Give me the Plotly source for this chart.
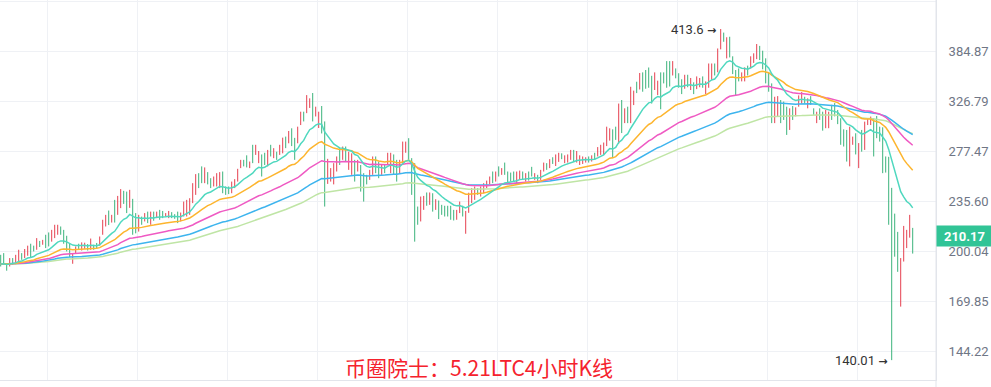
import math
import pandas as pd
import plotly.graph_objects as go

# ---------------- data (4h LTC candles) ----------------
opens = [
    196.1, 197.2, 190.6, 191.3, 194.7, 193.5, 194.8, 197.8, 196.7, 198.3,
    203.1, 202.8, 202.5, 206.0, 204.9, 209.2, 210.7, 207.9, 210.6, 212.4,
    215.6, 212.5, 208.2, 203.1, 193.3, 199.6, 204.1, 201.5, 202.3, 203.8,
    202.4, 203.5, 204.7, 204.8, 213.1, 218.5, 226.3, 220.7, 233.1, 228.1,
    233.2, 241.6, 239.7, 233.2, 232.0, 223.6, 215.6, 222.7, 221.6, 225.9,
    219.9, 226.3, 223.8, 227.4, 227.0, 224.5, 223.9, 226.3, 225.0, 225.9,
    221.7, 226.2, 226.5, 227.7, 237.2, 243.8, 255.6, 261.1, 252.4, 257.0,
    252.3, 248.7, 249.3, 248.4, 255.9, 245.8, 245.9, 243.6, 247.3, 253.2,
    263.8, 268.5, 271.5, 263.5, 279.9, 275.8, 268.9, 270.6, 273.7, 266.8,
    281.1, 272.9, 275.4, 275.8, 278.3, 288.7, 286.9, 295.5, 285.7, 287.8,
    304.8, 313.6, 317.9, 321.5, 329.5, 312.7, 302.5, 316.0, 290.8, 253.5,
    253.4, 252.4, 262.1, 277.1, 272.0, 278.9, 264.1, 260.4, 265.9, 261.5,
    260.7, 253.5, 255.1, 254.2, 259.9, 269.7, 265.3, 258.4, 263.7, 267.3,
    261.7, 270.9, 265.9, 260.4, 270.6, 278.0, 285.4, 265.0, 254.6, 228.7,
    224.1, 231.0, 240.2, 234.6, 238.9, 230.5, 233.2, 231.2, 230.4, 230.4,
    229.9, 227.3, 223.1, 228.2, 230.4, 215.0, 229.8, 236.4, 238.6, 244.7,
    240.7, 243.3, 247.0, 250.1, 257.6, 252.8, 262.2, 257.8, 265.1, 257.6,
    257.1, 257.8, 251.7, 254.5, 258.1, 252.5, 258.0, 261.9, 253.6, 255.3,
    254.2, 261.0, 265.5, 264.0, 270.7, 266.2, 269.4, 274.4, 268.1, 268.6,
    271.4, 276.4, 269.3, 266.8, 267.3, 268.1, 271.5, 269.2, 274.6, 274.3,
    275.8, 276.3, 285.7, 289.5, 292.5, 298.0, 292.1, 321.2, 307.0, 317.4,
    311.7, 325.6, 345.6, 343.2, 354.5, 357.4, 360.0, 348.7, 342.8, 336.4,
    350.7, 356.4, 366.2, 366.5, 358.7, 361.3, 354.6, 347.6, 343.4, 353.3,
    341.5, 344.8, 342.7, 344.0, 351.6, 337.1, 346.9, 354.0, 366.7, 364.8,
    392.3, 406.4, 381.1, 398.0, 374.0, 356.0, 360.6, 350.6, 351.8, 364.6,
    366.5, 372.6, 378.6, 387.9, 380.7, 369.9, 354.5, 337.8, 309.5, 315.1,
    323.1, 322.4, 315.1, 301.7, 318.6, 312.7, 323.2, 326.6, 330.0, 321.2,
    330.2, 317.8, 306.3, 316.7, 311.8, 302.7, 302.3, 319.7, 321.8, 314.5,
    303.8, 294.6, 291.5, 271.2, 284.7, 290.2, 266.9, 293.2, 283.9, 303.5,
    303.8, 301.6, 306.8, 297.6, 291.5, 269.8, 261.4, 228.0, 220.1, 207.8,
    172.5, 198.1, 204.5, 212.2, 214.5,
]
highs = [
    197.6, 198.7, 191.3, 195.5, 195.5, 197.6, 200.9, 198.7, 201.4, 203.6,
    204.9, 203.6, 208.7, 206.8, 207.5, 211.0, 212.6, 214.4, 218.0, 218.0,
    216.8, 214.4, 210.3, 204.9, 198.7, 203.1, 204.9, 205.8, 205.6, 204.7,
    208.4, 204.2, 205.4, 209.8, 221.6, 225.2, 228.4, 225.2, 236.5, 239.6,
    245.0, 243.6, 243.0, 244.4, 237.3, 226.5, 225.2, 223.9, 226.5, 227.6,
    227.6, 227.6, 227.6, 228.9, 228.1, 226.5, 228.1, 227.2, 225.7, 227.6,
    226.9, 235.2, 236.5, 237.8, 249.8, 257.3, 258.1, 263.9, 263.0, 259.0,
    253.9, 255.3, 258.1, 259.0, 259.5, 247.1, 247.1, 251.1, 253.1, 261.8,
    269.6, 269.6, 273.6, 268.1, 283.2, 283.2, 277.5, 274.4, 275.9, 278.5,
    283.2, 280.1, 276.9, 283.2, 289.9, 290.9, 296.3, 298.9, 289.7, 300.5,
    315.6, 315.6, 333.2, 329.7, 335.5, 320.8, 315.6, 321.5, 305.7, 270.5,
    262.4, 266.7, 272.6, 280.1, 281.6, 281.6, 276.9, 275.4, 269.6, 269.6,
    265.1, 258.1, 256.7, 260.9, 272.6, 272.6, 268.1, 265.1, 265.1, 275.9,
    275.9, 274.4, 269.6, 269.6, 286.2, 286.2, 289.4, 271.1, 266.7, 231.4,
    239.1, 239.6, 242.3, 242.3, 241.7, 237.0, 236.0, 232.7, 232.0, 232.0,
    232.0, 228.9, 228.9, 235.2, 232.0, 228.1, 242.1, 245.8, 247.1, 245.8,
    247.1, 249.8, 251.9, 255.3, 259.5, 259.5, 263.9, 262.4, 267.2, 259.5,
    258.6, 259.5, 259.5, 260.3, 259.5, 258.1, 259.5, 263.5, 258.1, 256.7,
    260.9, 267.2, 266.7, 270.2, 271.9, 274.4, 275.9, 275.4, 273.6, 274.4,
    278.5, 278.5, 277.5, 273.6, 272.6, 271.9, 272.6, 273.6, 275.9, 281.1,
    283.2, 285.3, 300.5, 298.9, 297.9, 300.5, 324.1, 327.9, 319.1, 320.8,
    342.4, 338.1, 348.1, 358.2, 358.9, 361.7, 364.7, 354.9, 358.9, 349.3,
    358.9, 358.9, 372.4, 372.4, 372.4, 363.6, 357.9, 350.9, 356.1, 356.1,
    352.4, 347.4, 354.2, 352.4, 354.2, 348.5, 369.5, 369.5, 369.5, 388.1,
    413.6, 408.8, 402.6, 403.3, 378.3, 361.7, 363.6, 358.9, 364.8, 366.9,
    378.3, 382.0, 393.8, 391.4, 385.3, 375.8, 358.9, 346.2, 331.4, 332.1,
    327.9, 326.2, 320.8, 319.1, 321.5, 320.1, 332.9, 336.5, 331.4, 329.7,
    332.1, 319.1, 315.6, 319.1, 315.6, 317.4, 315.6, 322.8, 324.6, 317.4,
    308.9, 297.9, 297.3, 300.5, 290.9, 294.1, 284.8, 297.3, 305.5, 308.9,
    310.6, 308.9, 311.2, 300.5, 299.9, 272.6, 272.3, 246.0, 226.1, 213.0,
    195.5, 217.2, 214.4, 225.2, 215.8,
]
lows = [
    190.2, 191.3, 187.6, 190.2, 191.3, 192.5, 193.3, 194.4, 195.5, 197.0,
    196.1, 199.8, 200.9, 202.7, 204.2, 202.0, 203.1, 206.3, 208.7, 211.0,
    211.0, 204.9, 199.8, 196.1, 191.9, 198.7, 200.9, 200.4, 201.5, 200.4,
    200.9, 200.9, 202.0, 203.6, 211.0, 216.8, 217.8, 219.6, 219.6, 225.2,
    230.2, 233.4, 226.5, 230.4, 211.0, 212.0, 213.2, 218.0, 220.4, 219.2,
    218.0, 220.9, 222.8, 221.6, 222.8, 224.0, 222.8, 222.8, 222.3, 219.2,
    220.4, 224.0, 224.0, 225.2, 234.0, 240.4, 245.8, 249.8, 249.8, 248.8,
    245.8, 247.1, 247.1, 245.8, 241.7, 240.4, 241.0, 241.7, 245.8, 251.1,
    262.4, 263.9, 263.0, 262.4, 266.7, 274.0, 266.7, 255.3, 265.1, 263.9,
    272.6, 271.1, 269.6, 274.0, 275.4, 280.1, 284.6, 282.0, 269.6, 284.6,
    302.1, 305.7, 314.1, 319.5, 305.7, 310.7, 299.2, 293.9, 231.4, 249.2,
    251.1, 248.8, 259.5, 265.1, 269.6, 268.1, 260.9, 256.7, 251.1, 259.5,
    243.0, 235.2, 248.8, 252.5, 256.7, 258.1, 253.9, 256.7, 258.1, 265.1,
    258.1, 256.7, 251.1, 258.1, 266.7, 275.9, 269.6, 240.4, 206.3, 218.0,
    220.4, 228.9, 232.0, 232.7, 227.6, 228.9, 222.1, 225.2, 224.0, 224.0,
    221.6, 221.1, 221.6, 226.5, 224.0, 211.7, 226.7, 234.0, 236.5, 240.4,
    239.1, 241.7, 245.8, 248.8, 249.8, 251.1, 255.3, 256.7, 256.7, 249.8,
    251.1, 251.1, 249.8, 253.1, 252.5, 251.1, 251.9, 255.3, 252.5, 249.8,
    252.5, 259.5, 260.9, 262.4, 266.0, 264.2, 267.8, 270.2, 266.7, 267.2,
    269.6, 268.1, 267.2, 265.1, 266.0, 267.2, 267.2, 268.1, 269.6, 272.6,
    274.0, 274.0, 282.0, 287.1, 271.1, 287.8, 284.1, 294.3, 304.0, 304.0,
    304.0, 322.5, 335.4, 339.4, 336.9, 340.2, 341.3, 324.1, 338.8, 333.2,
    318.1, 346.2, 341.3, 342.7, 355.3, 352.0, 341.3, 334.3, 340.2, 341.9,
    338.8, 334.3, 339.8, 341.9, 341.3, 334.3, 341.3, 350.1, 355.3, 359.0,
    387.0, 396.7, 375.7, 376.9, 356.9, 333.1, 348.5, 348.5, 348.5, 355.3,
    363.6, 370.2, 374.8, 373.7, 362.5, 346.2, 336.9, 304.0, 304.0, 310.8,
    304.0, 307.2, 292.5, 297.3, 307.2, 310.8, 320.8, 324.1, 324.1, 319.1,
    322.8, 312.4, 304.0, 307.2, 296.6, 299.0, 299.0, 307.2, 310.8, 303.0,
    283.2, 281.6, 268.1, 263.9, 283.2, 274.4, 262.4, 276.9, 278.5, 302.1,
    302.1, 272.6, 289.4, 286.2, 258.1, 258.6, 218.0, 140.01, 196.4, 186.9,
    166.8, 193.3, 202.0, 209.0, 198.4,
]
closes = [
    191.7, 192.8, 188.3, 194.4, 192.1, 196.6, 199.4, 195.3, 200.2, 202.3,
    197.9, 200.6, 207.1, 203.5, 206.8, 203.8, 205.0, 212.8, 216.1, 216.6,
    212.2, 206.8, 201.9, 197.9, 197.3, 202.2, 201.7, 204.7, 204.8, 201.3,
    206.9, 201.6, 202.7, 208.6, 219.5, 223.5, 219.9, 224.1, 223.0, 236.7,
    242.0, 235.4, 229.8, 241.6, 216.3, 214.9, 222.8, 219.2, 225.3, 220.9,
    225.7, 222.2, 226.6, 223.1, 223.9, 226.0, 227.0, 223.7, 223.0, 220.9,
    225.6, 233.0, 234.0, 235.3, 246.6, 253.9, 248.3, 252.6, 260.4, 250.8,
    247.4, 253.7, 255.9, 256.4, 245.3, 241.7, 242.2, 249.2, 251.6, 259.7,
    268.2, 265.0, 265.1, 267.0, 270.0, 281.4, 275.3, 259.1, 267.3, 275.6,
    274.7, 278.3, 271.1, 281.4, 287.0, 282.3, 294.0, 285.4, 273.6, 297.3,
    312.9, 307.7, 329.4, 327.7, 311.7, 318.8, 312.3, 299.4, 246.3, 266.2,
    260.1, 263.1, 270.0, 268.1, 279.2, 270.8, 273.7, 271.7, 254.8, 267.6,
    247.4, 239.8, 250.4, 259.2, 269.4, 261.0, 256.7, 263.4, 259.5, 273.7,
    272.3, 260.2, 254.8, 267.3, 282.3, 284.1, 273.6, 246.5, 218.4, 220.7,
    235.4, 237.5, 234.1, 240.4, 230.4, 235.4, 224.9, 226.7, 225.6, 225.6,
    223.7, 222.7, 227.4, 233.5, 225.6, 224.8, 239.0, 243.4, 245.0, 241.5,
    245.5, 248.2, 250.7, 254.0, 251.7, 257.8, 257.0, 261.3, 258.8, 251.7,
    252.6, 252.8, 257.6, 258.9, 253.9, 256.7, 253.4, 256.9, 257.0, 251.2,
    259.2, 265.7, 262.1, 268.6, 267.2, 272.4, 274.3, 271.2, 272.2, 273.0,
    276.7, 270.2, 275.4, 271.9, 271.3, 271.0, 268.3, 272.5, 270.9, 279.4,
    281.4, 283.0, 296.8, 296.5, 276.5, 290.3, 316.1, 301.0, 316.1, 307.4,
    334.7, 335.0, 337.9, 354.4, 341.3, 344.5, 346.0, 330.3, 354.9, 346.1,
    326.3, 348.7, 347.5, 348.6, 369.0, 354.3, 344.6, 337.6, 352.9, 344.7,
    349.7, 336.9, 351.3, 350.3, 343.9, 345.7, 363.9, 365.6, 358.1, 382.3,
    408.3, 399.1, 397.2, 382.2, 361.2, 338.8, 351.5, 356.8, 361.5, 357.6,
    375.4, 379.6, 390.0, 377.2, 367.1, 352.1, 341.3, 312.4, 325.9, 327.8,
    308.8, 311.0, 298.2, 314.7, 310.1, 318.2, 330.5, 334.0, 325.6, 327.6,
    324.7, 313.7, 313.3, 309.6, 300.4, 313.7, 312.3, 310.3, 313.6, 305.9,
    288.3, 284.9, 273.9, 293.2, 289.4, 278.3, 280.3, 281.0, 300.1, 307.5,
    308.9, 279.9, 293.8, 289.1, 266.5, 261.4, 228.9, 205.0, 202.3, 192.1,
    189.8, 212.4, 211.9, 222.0, 210.17,
]

ma_periods = [130, 92, 58, 32, 14]
ma_colors = ["#bfe5a5", "#3db4ee", "#ef5ac3", "#fdb52e", "#4fd8bf"]

y_tick_vals = [144.22, 169.85, 200.04, 235.60, 277.47, 326.79, 384.87, 453.28]
y_tick_text = ["144.22", "169.85", "200.04", "235.60", "277.47", "326.79", "384.87", ""]
last_price = 210.17
title_text = "币圈院士：5.21LTC4小时K线"

UP = "#e5414f"
DOWN = "#3cb37c"
GRID = "#eff1f5"
AXIS = "#e2e5eb"

# ---------------- figure ----------------
n = len(closes)
x = list(range(n))
close_s = pd.Series(closes)

fig = go.Figure()
fig.add_trace(go.Ohlc(
    x=x, open=opens, high=highs, low=lows, close=closes,
    tickwidth=0,
    increasing=dict(line=dict(color=UP, width=1)),
    decreasing=dict(line=dict(color=DOWN, width=1)),
    showlegend=False, hoverinfo="skip",
))
for p, c in zip(ma_periods, ma_colors):
    ema = close_s.ewm(span=p, adjust=False).mean()
    fig.add_trace(go.Scatter(x=x, y=ema, mode="lines",
                             line=dict(color=c, width=1.5),
                             showlegend=False, hoverinfo="skip"))

plot_w = 936
x_lo = -0.7 / 3.0
x_hi = (plot_w - 0.7) / 3.0
grid_x = [15.67 + 30 * k for k in range(11)]

i_hi = max(range(n), key=lambda i: highs[i])
i_lo = min(range(n), key=lambda i: lows[i])

fig.update_layout(
    width=991, height=387,
    margin=dict(l=0, r=55, t=0, b=7),
    paper_bgcolor="white", plot_bgcolor="white",
    font=dict(family="Roboto, sans-serif"),
    xaxis=dict(range=[x_lo, x_hi], tickvals=grid_x, showticklabels=False,
               showgrid=True, gridcolor=GRID, gridwidth=1, zeroline=False,
               showline=True, linecolor=AXIS, linewidth=1,
               rangeslider=dict(visible=False), fixedrange=True),
    yaxis=dict(type="log", side="right",
               range=[math.log10(131.2), math.log10(454.8)],
               tickvals=y_tick_vals, ticktext=y_tick_text,
               showgrid=True, gridcolor=GRID, gridwidth=1, zeroline=False,
               showline=True, linecolor=AXIS, linewidth=1,
               ticks="", ticklabelstandoff=9,
               tickfont=dict(size=13, color="#6f7685", family="Roboto"),
               fixedrange=True),
    showlegend=False,
)

# axis line continues to the bottom of the canvas
fig.add_shape(type="line", xref="paper", yref="paper",
              x0=1, x1=1, y0=-0.03, y1=1, line=dict(color=AXIS, width=1))

# last price box
fig.add_annotation(xref="paper", yref="y", x=1, y=math.log10(last_price),
                   xanchor="left", yanchor="middle", showarrow=False,
                   text="<b>%.2f</b>" % last_price, width=55, height=20,
                   borderpad=0, align="center", bgcolor="#31c496",
                   font=dict(color="white", size=13, family="Roboto"))
fig.add_shape(type="line", xref="paper", yref="y",
              x0=1 + 2 / plot_w, x1=1 + 7 / plot_w, y0=last_price, y1=last_price,
              line=dict(color="white", width=1.5))

# max / min labels
arrow = "<span style='font-family:DejaVu Sans;font-size:11px;font-weight:bold'>→</span>"
fig.add_annotation(x=i_hi, y=math.log10(highs[i_hi]), text="%.1f %s" % (highs[i_hi], arrow),
                   xanchor="right", yanchor="middle", xshift=-3, showarrow=False,
                   font=dict(size=13, color="#333333", family="Roboto"))
fig.add_annotation(x=i_lo, y=math.log10(lows[i_lo]), text="%.2f %s" % (lows[i_lo], arrow),
                   xanchor="right", yanchor="middle", xshift=-3, showarrow=False,
                   font=dict(size=13, color="#333333", family="Roboto"))

# caption
fig.add_annotation(xref="paper", yref="paper", x=479 / plot_w, y=13 / 380,
                   xanchor="center", yanchor="middle", showarrow=False,
                   text=title_text,
                   font=dict(size=21, color="#f5222d", family="Noto Sans CJK SC"))

fig.write_html("out.html", config={"displayModeBar": False},
               post_script="document.body.style.margin='0';document.body.style.padding='0';")
